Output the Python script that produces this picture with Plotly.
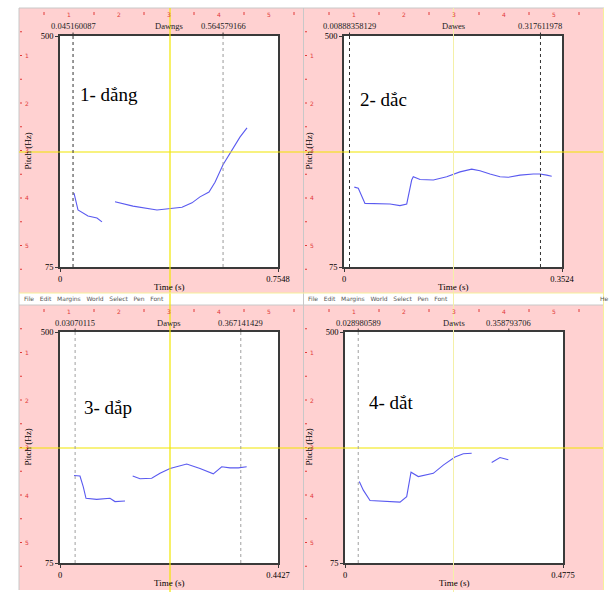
import plotly.graph_objects as go

W, H = 616, 592

# ---------------- data ----------------
TMAX = [0.7548, 0.3524, 0.4427, 0.4775]
TMAX_TEXT = ["0.7548", "0.3524", "0.4427", "0.4775"]
WORDS = ["Dawngs", "Dawes", "Dawps", "Dawts"]
LABELS = ["1- dắng", "2- dắc", "3- dắp", "4- dắt"]
MARKS = [[0.045160087, 0.564579166],
         [0.00888358129, 0.317611978],
         [0.03070115, 0.367141429],
         [0.028980589, 0.358793706]]
MARK_TEXT = [["0.045160087", "0.564579166"],
             ["0.00888358129", "0.317611978"],
             ["0.03070115", "0.367141429"],
             ["0.028980589", "0.358793706"]]
F_MIN, F_MAX = 75, 500
Y_TEXT = ["75", "500"]

# pitch contours (time s, Hz); None separates voiced segments
t1 = [0.0485, 0.0623, 0.0969, 0.128, 0.1454, None,
      0.1904, 0.2528, 0.3359, 0.3809, 0.4224, 0.457, 0.4847, 0.5159, 0.5367, 0.5644, 0.5955, 0.623, 0.6475]
f1 = [211, 180, 169, 165, 158, None,
      195, 187, 180, 182, 185, 193, 204, 213, 231, 263, 290, 314, 331]

t2 = [0.0167, 0.0231, 0.0339, 0.0582, 0.0744, 0.0905, 0.1014, 0.1094, 0.112, 0.1229, 0.1444, 0.166,
      0.1875, 0.2064, 0.2198, 0.236, 0.2522, 0.2656, 0.2845, 0.306, 0.3168, 0.3277, 0.3358]
f2 = [222, 220, 192, 192, 191, 188, 191, 235, 241, 236, 235, 241,
      250, 255, 252, 246, 241, 240, 244, 246, 246, 244, 242]

t3 = [0.0284, 0.0406, 0.0473, 0.0528, 0.0745, 0.1015, 0.1117, 0.132, None,
      0.1476, 0.1625, 0.1862, 0.2031, 0.2234, 0.2573, 0.2843, 0.3113, 0.3284, 0.3452, 0.3621, 0.3791]
f3 = [236, 235, 215, 194, 192, 194, 188, 189, None,
      235, 230, 231, 240, 249, 257, 249, 239, 252, 250, 250, 252]

t4 = [0.0313, 0.0401, 0.0548, 0.0767, 0.0986, 0.1205, 0.1351, 0.1446, 0.1606, 0.179, 0.1934,
      0.2153, 0.2409, 0.2592, 0.2775, None, 0.3213, 0.3395, 0.3577]
f4 = [225, 209, 190, 189, 188, 187, 197, 242, 234, 237, 240,
      255, 270, 276, 277, None, 260, 269, 265]

TIMES = [t1, t2, t3, t4]
FREQS = [f1, f2, f3, f4]

# ---------------- layout helpers ----------------
def px(x):
    return x / W

def py(y):
    return 1 - y / H

PINK = "#ffd1d1"
RED = "#e23a3a"
YEL = "#f2e600"
SERIF = "Liberation Serif"

BOX_X = [(60, 278), (344, 562), (60, 278), (345, 563)]
BOX_Y = [(36, 267), (36, 267), (332, 563), (332, 563)]
LAB_POS = [(0.083, 0.745), (0.064, 0.723), (0.10, 0.675), (0.10, 0.693)]
MARK_STYLE = [[("#333333", True), ("#9a9a9a", True)],
              [("#333333", True), ("#333333", True)],
              [("#a0a0a0", True), ("#a0a0a0", True)],
              [("#a0a0a0", True), ("#a0a0a0", False)]]
PITCH_X = [27, 308, 27, 308]

fig = go.Figure()
shapes = []
annotations = []


def note(**kw):
    kw.setdefault("xanchor", "center")
    kw.setdefault("yanchor", "middle")
    kw.setdefault("showarrow", False)
    annotations.append(kw)


# pink Praat picture-window backgrounds
for (x0, x1, y0, y1) in [(19, 303, 8, 293), (304, 604, 8, 293),
                         (19, 303, 305, 590), (304, 604, 305, 590)]:
    shapes.append(dict(type="rect", xref="paper", yref="paper", layer="below",
                       x0=px(x0), x1=px(x1), y0=py(y1), y1=py(y0),
                       fillcolor=PINK, line=dict(width=0)))
# white drawing areas inside the boxes
for (bx, by) in zip(BOX_X, BOX_Y):
    shapes.append(dict(type="rect", xref="paper", yref="paper", layer="below",
                       x0=px(bx[0]), x1=px(bx[1]), y0=py(by[1]), y1=py(by[0]),
                       fillcolor="white", line=dict(width=0)))
# window frame lines
for (x0, y0, x1, y1) in [(19, 8, 604, 8), (303.5, 8, 303.5, 590), (19, 8, 19, 590), (19, 305, 604, 305)]:
    shapes.append(dict(type="line", xref="paper", yref="paper", layer="below",
                       x0=px(x0), x1=px(x1), y0=py(y0), y1=py(y1),
                       line=dict(color="#c8c8c8", width=1)))

# red rulers
for (ox, oy) in [(19, 8), (304, 8), (19, 305), (304, 305)]:
    for k in range(1, 7):
        xx = ox + 50 * k
        if xx < ox + 290:
            note(xref="paper", yref="paper", x=px(xx), y=py(oy + 6), text=str(k),
                 font=dict(family="DejaVu Sans", size=6, color=RED))
        hx = ox + 50 * k - 25
        if hx < ox + 290:
            shapes.append(dict(type="line", xref="paper", yref="paper", layer="below",
                               x0=px(hx), x1=px(hx), y0=py(oy + 4), y1=py(oy + 7),
                               line=dict(color=RED, width=1)))
        yy = oy + 47.5 * k
        if yy < oy + 280:
            note(xref="paper", yref="paper", x=px(ox + 3.5), y=py(yy), text=str(k), xanchor="left",
                 font=dict(family="DejaVu Sans", size=6, color=RED))
            shapes.append(dict(type="line", xref="paper", yref="paper", layer="below",
                               x0=px(ox + 1), x1=px(ox + 3), y0=py(yy), y1=py(yy),
                               line=dict(color=RED, width=1)))
        hy = oy + 47.5 * k - 23.75
        shapes.append(dict(type="line", xref="paper", yref="paper", layer="below",
                           x0=px(ox + 1), x1=px(ox + 3), y0=py(hy), y1=py(hy),
                           line=dict(color=RED, width=1)))

# menu bars
for (mx, my) in [(22, 298.5), (306, 298.5)]:
    note(xref="paper", yref="paper", x=px(mx), y=py(my), xanchor="left",
         text="File   Edit   Margins   World   Select   Pen   Font",
         font=dict(family="DejaVu Sans", size=6, color="#555555"))
note(xref="paper", yref="paper", x=px(598), y=py(298.5), xanchor="left", text="He",
     font=dict(family="DejaVu Sans", size=6, color="#555555"))

# yellow selection / cursor lines
for (x0, y0, x1, y1, c, w) in [(19, 152, 604, 152, YEL, 1.2), (19, 448, 604, 448, YEL, 1.2),
                               (170, 8, 170, 592, YEL, 1.2), (453.5, 8, 453.5, 592, "#f4f0a8", 1),
                               (19, 293, 604, 293, "#f6ef9a", 1), (603.5, 8, 603.5, 590, "#f6ef9a", 1)]:
    shapes.append(dict(type="line", xref="paper", yref="paper", layer="above",
                       x0=px(x0), x1=px(x1), y0=py(y0), y1=py(y1),
                       line=dict(color=c, width=w)))

layout = dict(width=W, height=H, autosize=False,
              margin=dict(l=0, r=0, t=0, b=0, pad=0, autoexpand=False),
              paper_bgcolor="white", plot_bgcolor="white", showlegend=False)

for i in range(4):
    n = "" if i == 0 else str(i + 1)
    xa, ya = "x" + n, "y" + n
    x0, x1 = BOX_X[i]
    y0, y1 = BOX_Y[i]
    common = dict(showgrid=False, zeroline=False, showline=True, mirror=True,
                  linecolor="#3a3a3a", linewidth=1.6, ticks="outside", ticklen=3,
                  tickcolor="#3a3a3a", tickfont=dict(family=SERIF, size=8.5, color="black"),
                  fixedrange=True, automargin=False)
    layout["xaxis" + n] = dict(common, domain=[px(x0), px(x1)], range=[0, TMAX[i]],
                               tickvals=[0, TMAX[i]], ticktext=["0", TMAX_TEXT[i]], anchor=ya)
    layout["yaxis" + n] = dict(common, domain=[py(y1), py(y0)], range=[F_MIN, F_MAX],
                               tickvals=[F_MIN, F_MAX], ticktext=Y_TEXT, anchor=xa)

    fig.add_trace(go.Scatter(x=TIMES[i], y=FREQS[i], mode="lines", xaxis=xa, yaxis=ya,
                             line=dict(color="#5a5af0", width=1.1), connectgaps=False,
                             hoverinfo="skip"))

    # interval markers
    for j, m in enumerate(MARKS[i]):
        col, show = MARK_STYLE[i][j]
        if show:
            shapes.append(dict(type="line", xref=xa, yref=ya + " domain", layer="above",
                               x0=m, x1=m, y0=0, y1=1, line=dict(color=col, width=1, dash="dot")))
        shapes.append(dict(type="line", xref=xa, yref=ya + " domain", layer="above",
                           x0=m, x1=m, y0=1, y1=1.015, line=dict(color="#333333", width=1)))
        note(xref=xa, yref="paper", x=m, y=py(y0 - 9.5), text=MARK_TEXT[i][j],
             font=dict(family=SERIF, size=8.5, color="#222222"))
    note(xref=xa + " domain", yref="paper", x=0.5, y=py(y0 - 9.5), text=WORDS[i],
         font=dict(family=SERIF, size=8.5, color="#222222"))
    # axis titles
    note(xref=xa + " domain", yref="paper", x=0.5, y=py(y1 + 20), text="Time (s)",
         font=dict(family=SERIF, size=9, color="black"))
    note(xref="paper", yref=ya + " domain", x=px(PITCH_X[i]), y=0.5, text="Pitch (Hz)",
         textangle=-90, font=dict(family=SERIF, size=9, color="black"))
    # big word label
    lx, ly = LAB_POS[i]
    note(xref=xa + " domain", yref=ya + " domain", x=lx, y=ly, xanchor="left",
         text=LABELS[i], font=dict(family=SERIF, size=19, color="black"))

layout["shapes"] = shapes
layout["annotations"] = annotations
fig.update_layout(**layout)
fig.write_html("out.html")
